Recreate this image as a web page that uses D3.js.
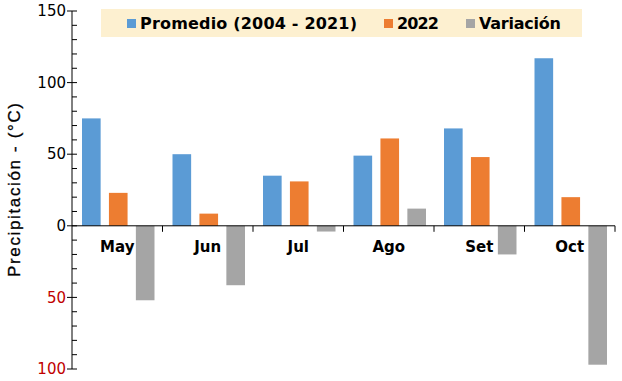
<!DOCTYPE html>
<html><head><meta charset="utf-8">
<script src="https://cdn.jsdelivr.net/npm/d3@7"></script>
<style>body{margin:0;background:#fff}svg{display:block}</style>
</head><body>
<script>
const categories = ["May","Jun","Jul","Ago","Set","Oct"];
const seriesNames = ["Promedio (2004 - 2021)","2022","Variación"];
const promedio = [75, 50, 35, 49, 68, 117];
const y2022 = [23, 8.5, 31, 61, 48, 20];
const variacion = [-52, -41.5, -4, 12, -20, -97];
const yTicks = [-100,-50,0,50,100,150];
const colors = ["#5b9bd5","#ed7d31","#a5a5a5"];

const W=622,H=381;
const svg=d3.select("body").append("svg").attr("width",W).attr("height",H);
const font="DejaVu Sans, Verdana, sans-serif";

const y=d3.scaleLinear().domain([-100,150]).range([369,11]);
const x=d3.scaleBand().domain(categories).range([72,615]).padding(0);
const xs=d3.scaleBand().domain(seriesNames).range([10,x.bandwidth()-8]).paddingInner(0.308).paddingOuter(0);

const data=[promedio,y2022,variacion];

// bars
seriesNames.forEach((s,si)=>{
  svg.append("g").selectAll("rect").data(categories).join("rect")
    .attr("x",c=>x(c)+xs(s))
    .attr("width",xs.bandwidth())
    .attr("y",(c,i)=>y(Math.max(0,data[si][i])))
    .attr("height",(c,i)=>Math.abs(y(data[si][i])-y(0)))
    .attr("fill",colors[si]);
});

// y axis
const yAxisG=svg.append("g").attr("transform","translate(72,0)");
yAxisG.append("line").attr("x1",0).attr("x2",0).attr("y1",y(150)).attr("y2",y(-100)).attr("stroke","#000");
const minor=d3.range(-100,151,10).filter(v=>v%50!==0);
yAxisG.selectAll(".mn").data(minor).join("line").attr("x1",0).attr("x2",5).attr("y1",d=>y(d)).attr("y2",d=>y(d)).attr("stroke","#000");
yAxisG.selectAll(".mj").data(yTicks).join("line").attr("x1",-5).attr("x2",5).attr("y1",d=>y(d)).attr("y2",d=>y(d)).attr("stroke","#000");
yAxisG.selectAll("text").data(yTicks).join("text")
  .attr("x",-6).attr("y",d=>y(d)).attr("dy","0.35em").attr("text-anchor","end")
  .attr("font-family",font).attr("font-size",15)
  .attr("fill",d=>d<0?"#c00000":"#000")
  .text(d=>Math.abs(d));

// x axis
const xAxisG=svg.append("g");
xAxisG.append("line").attr("x1",72).attr("x2",615).attr("y1",y(0)).attr("y2",y(0)).attr("stroke","#000");
const bounds=categories.map(c=>x(c)).concat([615]);
xAxisG.selectAll(".t").data(bounds.slice(1)).join("line").attr("x1",d=>d).attr("x2",d=>d).attr("y1",y(0)).attr("y2",y(0)+6).attr("stroke","#000");
xAxisG.selectAll("text").data(categories).join("text")
  .attr("x",c=>x(c)+x.bandwidth()/2).attr("y",y(0)+26)
  .attr("text-anchor","middle").attr("font-family",font).attr("font-size",15).attr("font-weight","bold")
  .attr("fill","#000").text(c=>c);

// y title
svg.append("text").attr("transform","translate(20,190) rotate(-90)")
  .attr("text-anchor","middle").attr("font-family","Liberation Sans, Arial, sans-serif").attr("font-size",17)
  .attr("fill","#000").attr("stroke","#000").attr("stroke-width",0.3)
  .attr("textLength",174).attr("lengthAdjust","spacing")
  .text("Precipitación - (°C)");

// legend
svg.append("rect").attr("x",101).attr("y",9).attr("width",481).attr("height",28).attr("fill","#fdf0d0");
const legX=[127,384,466];
const legW=[217,42,82];
seriesNames.forEach((s,i)=>{
  svg.append("rect").attr("x",legX[i]).attr("y",19).attr("width",9).attr("height",9).attr("fill",colors[i]);
  svg.append("text").attr("x",legX[i]+13).attr("y",23.5).attr("dy","0.35em")
    .attr("font-family",font).attr("font-size",16).attr("font-weight","bold").attr("fill","#000")
    .attr("textLength",legW[i]).attr("lengthAdjust","spacing").text(s);
});
</script>
</body></html>
